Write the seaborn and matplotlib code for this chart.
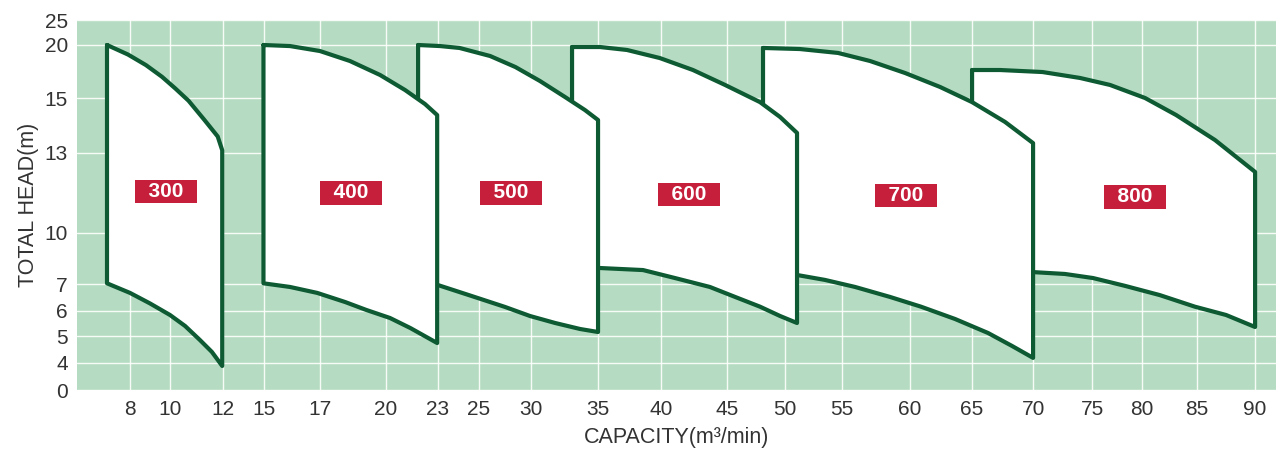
import numpy as np
import pandas as pd
import matplotlib
matplotlib.use("Agg")
import matplotlib.pyplot as plt
import seaborn as sns

# pump models, drawn back to front so the smaller ones overlap the bigger ones
models = [800, 700, 600, 500, 400, 300]

# upper (max head) curve of each model: capacity (m3/min) and head (m)
top_q = {
    300: [6.85, 7.9, 8.8, 9.6, 10.2, 10.7, 11.3, 11.8, 11.97, 11.97],
    400: [14.96, 15.93, 17.0, 18.36, 19.73, 21.1, 22.25, 22.95],
    500: [21.85, 23.1, 24.05, 26.07, 28.5, 30.67, 32.54, 34.03, 35.0],
    600: [33.06, 35.16, 37.3, 39.9, 42.42, 44.85, 47.84, 49.57, 51.05],
    700: [48.1, 51.3, 54.65, 57.06, 59.63, 62.42, 65.0, 67.7, 70.0],
    800: [65.0, 67.3, 70.8, 73.98, 76.8, 80.27, 83.1, 86.55, 88.7, 90.0],
}
top_h = {
    300: [20.0, 19.1, 18.1, 17.0, 15.9, 14.9, 14.2, 13.6, 13.1, 12.6],
    400: [20.0, 19.9, 19.43, 18.49, 17.17, 15.75, 14.78, 14.38],
    500: [20.0, 19.9, 19.72, 18.96, 17.92, 16.6, 15.09, 14.56, 14.2],
    600: [19.81, 19.81, 19.53, 18.77, 17.64, 16.23, 14.85, 14.31, 13.73],
    700: [19.72, 19.62, 19.25, 18.49, 17.36, 16.04, 14.85, 14.13, 13.36],
    800: [17.64, 17.64, 17.45, 16.89, 16.23, 15.0, 14.38, 13.47, 12.74, 12.29],
}
# lower (min head) curve of each model
bot_q = {
    300: [6.85, 8.0, 9.0, 10.0, 10.57, 11.13, 11.58, 11.97],
    400: [14.96, 15.93, 16.9, 18.15, 19.1, 20.23, 21.4, 22.95],
    500: [21.85, 23.0, 24.5, 27.5, 29.9, 31.8, 33.66, 35.0],
    600: [33.06, 35.16, 38.57, 41.06, 43.7, 45.7, 47.84, 49.57, 51.05],
    700: [48.1, 51.05, 53.5, 55.96, 58.53, 60.88, 63.63, 66.31, 68.28, 70.0],
    800: [65.0, 70.0, 72.7, 75.1, 78.3, 81.6, 84.8, 87.5, 90.0],
}
bot_h = {
    300: [7.04, 6.67, 6.28, 5.84, 5.4, 4.85, 4.41, 3.56],
    400: [7.04, 6.89, 6.67, 6.33, 6.04, 5.72, 5.32, 4.74],
    500: [7.04, 6.96, 6.59, 6.15, 5.8, 5.52, 5.28, 5.16],
    600: [7.94, 7.94, 7.82, 7.35, 6.89, 6.52, 6.16, 5.8, 5.52],
    700: [7.65, 7.53, 7.24, 6.89, 6.52, 6.16, 5.68, 5.12, 4.63, 4.19],
    800: [7.76, 7.7, 7.59, 7.35, 6.93, 6.59, 6.16, 5.84, 5.36],
}
# where the red model tag sits
label_q = {300: 9.8, 400: 18.4, 500: 28.1, 600: 42.1, 700: 59.7, 800: 79.3}
label_h = {300: 11.55, 400: 11.5, 500: 11.5, 600: 11.45, 700: 11.4, 800: 11.35}

x_ticks = [8, 10, 12, 15, 17, 20, 23, 25, 30, 35, 40, 45, 50, 55, 60, 65, 70, 75, 80, 85, 90]
y_ticks = [0, 4, 5, 6, 7, 10, 13, 15, 20, 25]

# the printed chart uses an uneven axis: tick value -> position on the sheet
x_anchor_val = [5] + x_ticks + [92]
x_anchor_pos = [70, 130, 170, 223, 264, 320, 386, 438, 479, 531, 598, 661, 727,
                785, 842, 910, 972, 1033, 1092, 1142, 1197, 1255, 1277]
y_anchor_val = y_ticks
y_anchor_pos = [68, 95, 122, 147, 174, 225, 305, 360, 413, 438]


def x_fwd(v):
    return np.interp(v, x_anchor_val, x_anchor_pos)


def x_inv(p):
    return np.interp(p, x_anchor_pos, x_anchor_val)


def y_fwd(v):
    return np.interp(v, y_anchor_val, y_anchor_pos)


def y_inv(p):
    return np.interp(p, y_anchor_pos, y_anchor_val)


sns.set_theme(style="white")
plt.rcParams['font.family'] = ['Liberation Sans', 'DejaVu Sans']

bg = '#b5dcc2'
edge = '#0d5a33'
tag = '#c51f3b'
txt = '#333333'

fig = plt.figure(figsize=(12.8, 4.58), dpi=100)
ax = fig.add_axes([77 / 1280, 1 - 390 / 458, (1276 - 77) / 1280, (390 - 20) / 458])
ax.set_facecolor(bg)
ax.set_xscale('function', functions=(x_fwd, x_inv))
ax.set_yscale('function', functions=(y_fwd, y_inv))

for k, m in enumerate(models):
    q = top_q[m] + bot_q[m][::-1] + [top_q[m][0]]
    h = top_h[m] + bot_h[m][::-1] + [top_h[m][0]]
    outline = pd.DataFrame({'q': q, 'h': h})
    ax.fill(outline['q'], outline['h'], color='white', zorder=3 + 2 * k, lw=0)
    sns.lineplot(data=outline, x='q', y='h', sort=False, estimator=None,
                 color=edge, lw=3.0, ax=ax, zorder=4 + 2 * k,
                 solid_joinstyle='round')
    ax.text(label_q[m], label_h[m], '  %d  ' % m, ha='center', va='center',
            color='white', fontsize=15, fontweight='bold', zorder=20,
            bbox=dict(boxstyle='square,pad=0.1', fc=tag, ec='none'))

ax.set_xlim(5.35, 91.9)
ax.set_ylim(0, 25)
ax.set_xticks(x_ticks)
ax.set_yticks(y_ticks)
ax.set_xticklabels([str(t) for t in x_ticks])
ax.set_yticklabels([str(t) for t in y_ticks])
ax.grid(True, color='white', lw=1.0, alpha=0.9, zorder=1)
ax.set_axisbelow(True)
ax.tick_params(axis='both', length=0, labelsize=15, colors=txt)
ax.tick_params(axis='x', pad=7)
ax.tick_params(axis='y', pad=6.5)
for s in ax.spines.values():
    s.set_visible(False)

ax.set_xlabel('CAPACITY(m³/min)', fontsize=15.5, color=txt, labelpad=6)
ax.set_ylabel('TOTAL HEAD(m)', fontsize=15.5, color=txt, labelpad=4)

fig.savefig('out.png', dpi=100, facecolor='white')
